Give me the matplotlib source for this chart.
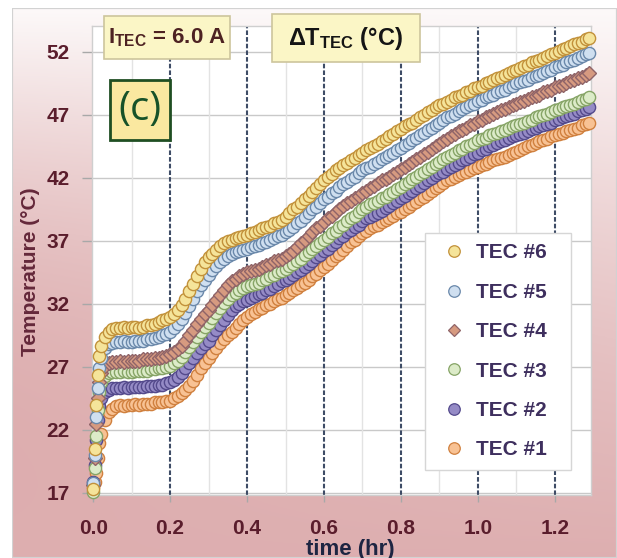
import numpy as np
import matplotlib
matplotlib.use("Agg")
import matplotlib.pyplot as plt
from matplotlib.patches import Rectangle

# ---------------- data ----------------
time_early = [0.0, 0.004, 0.008, 0.012, 0.016]
time_main = np.round(np.arange(0.02, 1.2901, 0.01), 3)
time_hr = np.concatenate([time_early, time_main])

tec6 = [17.3, 20.5, 24.0, 26.4, 27.9,
        28.7, 29.4, 29.8, 30.0, 30.1, 30.1, 30.2, 30.1, 30.2, 30.2,
        30.1, 30.2, 30.3, 30.3, 30.4, 30.6, 30.7, 30.8, 31.0, 31.2,
        31.5, 31.9, 32.4, 33.0, 33.6, 34.2, 34.8, 35.3, 35.7, 36.0,
        36.3, 36.6, 36.8, 37.0, 37.1, 37.2, 37.3, 37.4, 37.5, 37.6,
        37.7, 37.9, 38.0, 38.1, 38.2, 38.4, 38.5, 38.7, 38.9, 39.2,
        39.5, 39.7, 40.0, 40.3, 40.6, 40.9, 41.2, 41.5, 41.8, 42.1,
        42.3, 42.6, 42.8, 43.0, 43.2, 43.4, 43.6, 43.8, 44.0, 44.2,
        44.4, 44.5, 44.7, 44.9, 45.1, 45.3, 45.5, 45.7, 45.9, 46.1,
        46.3, 46.4, 46.6, 46.8, 47.0, 47.2, 47.4, 47.6, 47.8, 47.9,
        48.0, 48.2, 48.4, 48.5, 48.6, 48.8, 48.9, 49.1, 49.2, 49.3,
        49.5, 49.6, 49.8, 49.9, 50.0, 50.2, 50.3, 50.5, 50.6, 50.7,
        50.9, 51.0, 51.2, 51.3, 51.4, 51.5, 51.7, 51.8, 51.9, 52.1,
        52.2, 52.3, 52.5, 52.6, 52.7, 52.8, 53.0, 53.1]

tec5 = [17.8, 20.0, 23.0, 25.3, 26.9,
        27.7, 28.5, 28.8, 28.9, 29.0, 29.0, 29.1, 29.0, 29.0, 29.1,
        29.1, 29.1, 29.2, 29.2, 29.3, 29.4, 29.5, 29.6, 29.8, 30.1,
        30.4, 30.8, 31.3, 31.8, 32.4, 33.0, 33.5, 33.9, 34.3, 34.7,
        35.0, 35.3, 35.6, 35.8, 36.0, 36.1, 36.2, 36.3, 36.4, 36.5,
        36.6, 36.7, 36.8, 36.9, 37.1, 37.2, 37.4, 37.5, 37.7, 37.9,
        38.1, 38.4, 38.6, 38.9, 39.2, 39.5, 39.7, 40.0, 40.3, 40.5,
        40.8, 41.0, 41.3, 41.5, 41.7, 41.9, 42.1, 42.4, 42.6, 42.8,
        42.9, 43.1, 43.3, 43.5, 43.7, 43.8, 44.0, 44.2, 44.4, 44.6,
        44.8, 45.0, 45.2, 45.4, 45.6, 45.8, 46.0, 46.2, 46.4, 46.6,
        46.8, 46.9, 47.1, 47.3, 47.5, 47.6, 47.8, 47.9, 48.1, 48.2,
        48.4, 48.5, 48.6, 48.8, 48.9, 49.0, 49.2, 49.3, 49.5, 49.6,
        49.7, 49.8, 50.0, 50.1, 50.2, 50.3, 50.5, 50.6, 50.8, 50.9,
        51.0, 51.2, 51.3, 51.4, 51.5, 51.7, 51.8, 51.9]

tec4 = [17.6, 19.8, 22.5, 24.5, 25.8,
        26.5, 27.1, 27.3, 27.4, 27.4, 27.5, 27.4, 27.5, 27.5, 27.5,
        27.5, 27.6, 27.6, 27.6, 27.7, 27.7, 27.8, 27.9, 28.0, 28.2,
        28.4, 28.7, 29.1, 29.5, 29.9, 30.4, 30.8, 31.2, 31.5, 31.9,
        32.3, 32.7, 33.1, 33.5, 33.8, 34.0, 34.2, 34.4, 34.5, 34.6,
        34.7, 34.8, 34.9, 35.1, 35.2, 35.4, 35.5, 35.6, 35.8, 36.0,
        36.2, 36.5, 36.8, 37.1, 37.4, 37.7, 38.0, 38.2, 38.5, 38.8,
        39.0, 39.3, 39.5, 39.8, 40.0, 40.2, 40.4, 40.6, 40.8, 41.0,
        41.2, 41.4, 41.6, 41.8, 41.9, 42.1, 42.3, 42.5, 42.7, 42.9,
        43.1, 43.3, 43.5, 43.7, 43.9, 44.1, 44.3, 44.5, 44.7, 44.9,
        45.1, 45.3, 45.5, 45.7, 45.8, 46.0, 46.2, 46.3, 46.5, 46.6,
        46.8, 46.9, 47.1, 47.2, 47.4, 47.5, 47.6, 47.8, 47.9, 48.0,
        48.1, 48.3, 48.4, 48.5, 48.6, 48.8, 48.9, 49.0, 49.2, 49.3,
        49.4, 49.5, 49.7, 49.8, 49.9, 50.0, 50.2, 50.3]

tec3 = [17.1, 19.0, 21.5, 23.6, 25.0,
        25.8, 26.3, 26.5, 26.6, 26.6, 26.6, 26.7, 26.6, 26.6, 26.7,
        26.7, 26.7, 26.7, 26.8, 26.8, 26.9, 26.9, 27.0, 27.1, 27.3,
        27.5, 27.8, 28.2, 28.6, 29.0, 29.4, 29.8, 30.2, 30.5, 30.9,
        31.3, 31.7, 32.1, 32.4, 32.7, 32.9, 33.1, 33.3, 33.4, 33.5,
        33.6, 33.7, 33.9, 34.0, 34.2, 34.3, 34.5, 34.6, 34.8, 35.0,
        35.2, 35.4, 35.6, 35.9, 36.1, 36.4, 36.6, 36.8, 37.1, 37.3,
        37.6, 37.8, 38.1, 38.3, 38.6, 38.8, 39.0, 39.3, 39.5, 39.7,
        39.9, 40.0, 40.2, 40.4, 40.5, 40.7, 40.9, 41.1, 41.3, 41.5,
        41.7, 41.9, 42.1, 42.3, 42.5, 42.7, 42.9, 43.1, 43.3, 43.5,
        43.7, 43.8, 44.0, 44.2, 44.3, 44.5, 44.6, 44.8, 45.0, 45.1,
        45.2, 45.4, 45.5, 45.6, 45.7, 45.8, 46.0, 46.1, 46.2, 46.3,
        46.4, 46.5, 46.6, 46.8, 46.9, 47.0, 47.1, 47.2, 47.4, 47.5,
        47.6, 47.7, 47.8, 47.9, 48.0, 48.2, 48.3, 48.4]

tec2 = [17.9, 19.2, 21.2, 22.8, 23.9,
        24.5, 25.0, 25.2, 25.3, 25.3, 25.3, 25.4, 25.3, 25.4, 25.4,
        25.4, 25.4, 25.5, 25.5, 25.5, 25.6, 25.6, 25.7, 25.8, 26.0,
        26.2, 26.5, 26.9, 27.3, 27.7, 28.1, 28.5, 28.8, 29.1, 29.5,
        29.9, 30.3, 30.7, 31.1, 31.5, 31.8, 32.0, 32.2, 32.3, 32.5,
        32.6, 32.8, 32.9, 33.1, 33.2, 33.4, 33.6, 33.8, 33.9, 34.1,
        34.3, 34.5, 34.7, 34.9, 35.2, 35.4, 35.7, 35.9, 36.2, 36.4,
        36.7, 36.9, 37.2, 37.4, 37.7, 37.9, 38.1, 38.3, 38.6, 38.8,
        38.9, 39.1, 39.2, 39.4, 39.6, 39.8, 40.0, 40.2, 40.4, 40.6,
        40.8, 41.0, 41.2, 41.4, 41.6, 41.8, 42.0, 42.2, 42.4, 42.5,
        42.7, 42.9, 43.0, 43.2, 43.4, 43.5, 43.7, 43.9, 44.0, 44.2,
        44.3, 44.5, 44.6, 44.8, 44.9, 45.0, 45.2, 45.3, 45.4, 45.5,
        45.6, 45.7, 45.9, 46.0, 46.1, 46.2, 46.3, 46.4, 46.6, 46.7,
        46.8, 46.9, 47.0, 47.1, 47.3, 47.4, 47.5, 47.6]

tec1 = [17.5, 17.9, 18.6, 19.8, 21.0,
        21.7, 22.8, 23.4, 23.7, 23.9, 24.0, 23.9, 24.0, 24.0, 24.1,
        24.0, 24.1, 24.1, 24.1, 24.2, 24.2, 24.2, 24.3, 24.3, 24.5,
        24.7, 24.9, 25.2, 25.5, 25.9, 26.4, 26.9, 27.3, 27.7, 28.1,
        28.5, 28.9, 29.2, 29.5, 29.8, 30.1, 30.4, 30.7, 31.0, 31.2,
        31.4, 31.6, 31.7, 31.9, 32.0, 32.2, 32.4, 32.5, 32.7, 32.9,
        33.1, 33.3, 33.5, 33.7, 33.9, 34.2, 34.4, 34.7, 34.9, 35.2,
        35.5, 35.8, 36.0, 36.3, 36.6, 36.9, 37.1, 37.4, 37.6, 37.8,
        38.0, 38.2, 38.3, 38.5, 38.7, 38.8, 39.0, 39.2, 39.3, 39.5,
        39.7, 39.9, 40.1, 40.3, 40.5, 40.7, 41.0, 41.2, 41.4, 41.6,
        41.8, 41.9, 42.1, 42.2, 42.4, 42.5, 42.6, 42.8, 42.9, 43.0,
        43.1, 43.3, 43.4, 43.5, 43.6, 43.7, 43.8, 44.0, 44.1, 44.2,
        44.4, 44.5, 44.6, 44.8, 44.9, 45.0, 45.1, 45.3, 45.4, 45.5,
        45.6, 45.7, 45.8, 45.9, 46.0, 46.2, 46.3, 46.4]

series_labels = ["TEC #1", "TEC #2", "TEC #3", "TEC #4", "TEC #5", "TEC #6"]
series_values = [tec1, tec2, tec3, tec4, tec5, tec6]
face_colors = ["#f8c294", "#958bc6", "#dcebc8", "#d69a80", "#cfdff0", "#f5e49a"]
edge_colors = ["#d0803e", "#544a8c", "#86a466", "#8f6468", "#6a88aa", "#c2913a"]
markers = ["o", "o", "o", "D", "o", "o"]

x_ticks = [0.0, 0.2, 0.4, 0.6, 0.8, 1.0, 1.2]
x_minor = [0.1, 0.3, 0.5, 0.7, 0.9, 1.1]
y_ticks = [17, 22, 27, 32, 37, 42, 47, 52]

# ---------------- fonts ----------------
plt.rcParams["font.family"] = ["Liberation Sans", "DejaVu Sans"]
plt.rcParams["mathtext.fontset"] = "custom"
plt.rcParams["mathtext.rm"] = "Liberation Sans:bold"
plt.rcParams["mathtext.bf"] = "Liberation Sans:bold"
plt.rcParams["mathtext.it"] = "Liberation Sans:bold"

W, H = 617, 558
fig = plt.figure(figsize=(W / 100, H / 100), dpi=100, facecolor="white")

def fx(px):
    return px / W

def fy(py):
    return 1 - py / H

# ---------------- gradient background ----------------
bg = fig.add_axes([fx(12), 0, 1 - fx(12), fy(8)], zorder=-10)
v = np.linspace(0, 1, 300)[:, None]
u = np.linspace(0, 1, 300)[None, :]
p = 0.05 + 0.62 * v ** 1.1 + 0.24 * (1 - u) * np.sin(np.pi * v) + 0.1 * u * np.sin(np.pi * v)
p = np.clip(p, 0, 1)
pink = np.array([205, 135, 137]) / 255.0
img = (1 - p)[..., None] * np.ones(3) + p[..., None] * pink
bg.imshow(img, aspect="auto", extent=[0, 1, 0, 1], origin="upper")
bg.set_xlim(0, 1)
bg.set_ylim(0, 1)
bg.set_axis_off()
bg.add_patch(Rectangle((0, 0), 1, 1, transform=bg.transAxes, fill=False,
                       ec="#d2d2d2", lw=1.6))

# ---------------- main axes ----------------
ax = fig.add_axes([fx(92), fy(495), fx(591) - fx(92), fy(26) - fy(495)])
ax.set_facecolor("white")
ax.set_xlim(-0.003, 1.294)
ax.set_ylim(16.84, 54.06)

for yv in y_ticks:
    ax.axhline(yv, color="#c9c9c9", lw=1.0, zorder=0.5)
for xv in x_minor:
    ax.axvline(xv, color="#e3e3e3", lw=1.0, zorder=0.5)
for xv in x_ticks[1:]:
    ax.axvline(xv, color="#3e4c66", lw=1.5, ls=(0, (2.2, 1.0)), zorder=0.6)

lines = []
for lab, vals, fc, ec, mk in zip(series_labels, series_values, face_colors,
                                 edge_colors, markers):
    ms = 7.6 if mk == "D" else 8.8
    ln, = ax.plot(time_hr, vals, ls="none", marker=mk, ms=ms, mfc=fc, mec=ec,
                  mew=1.0, label=lab, zorder=3, clip_on=False)
    lines.append(ln)

ax.set_xticks(x_ticks)
ax.set_xticklabels([f"{t:.1f}" for t in x_ticks])
ax.set_yticks(y_ticks)
ax.set_yticklabels([str(t) for t in y_ticks])
ax.tick_params(axis="both", direction="out", color="#a8a8a8", width=1.0,
               labelcolor="#5a1d2c", labelsize=15)
ax.tick_params(axis="y", length=7, pad=9)
ax.tick_params(axis="x", length=5, pad=12)
for lbl in ax.get_xticklabels() + ax.get_yticklabels():
    lbl.set_fontweight("bold")

for s in ax.spines.values():
    s.set_color("#cfcfcf")
    s.set_linewidth(1.0)

ax.set_ylabel("Temperature (°C)", fontsize=15, fontweight="bold", color="#64283a")
ax.yaxis.set_label_coords((31 - 92) / 499, (495 - 272) / 469)
ax.yaxis.label.set_va("center")
ax.set_xlabel("time (hr)", fontsize=16, fontweight="bold", color="#1d2542")
ax.xaxis.set_label_coords((350 - 92) / 499, (495 - 549) / 469)
ax.xaxis.label.set_va("center")

# ---------------- legend ----------------
ax.add_patch(Rectangle((fx(425), fy(470)), fx(571) - fx(425), fy(233) - fy(470),
                       transform=fig.transFigure, fc="white", ec="#d6d6d6",
                       lw=1.0, zorder=8, clip_on=False))
leg = ax.legend(handles=lines[::-1], loc="upper left",
                bbox_to_anchor=(fx(425), fy(233)), bbox_transform=fig.transFigure,
                fontsize=15, frameon=False, borderpad=0.5, handlelength=1.8,
                handletextpad=0.15, labelspacing=0.98, numpoints=1,
                borderaxespad=0)
for t in leg.get_texts():
    t.set_fontweight("bold")
    t.set_color("#3e2f5e")
for h, mk in zip(leg.legend_handles, markers[::-1]):
    h.set_markersize(6.5 if mk == "D" else 8.3)
    h.set_markeredgewidth(0.9)
leg.set_zorder(10)

# ---------------- annotation boxes ----------------
def box(x0, y0, x1, y1, fc, ec, lw):
    fig.patches.append(Rectangle((fx(x0), fy(y1)), fx(x1) - fx(x0), fy(y0) - fy(y1),
                                 transform=fig.transFigure, fc=fc, ec=ec, lw=lw,
                                 zorder=20))

box(104, 16, 230, 59, "#fbf6c6", "#cdc59c", 1.2)
fig.text(fx(167), fy(38), r"$\mathrm{I_{TEC}}$ = 6.0 A", ha="center", va="center",
         fontsize=16, fontweight="bold", color="#4d2222", zorder=21)

box(272, 14, 420, 62, "#fbf6c6", "#cdc59c", 1.2)
fig.text(fx(346), fy(39), r"ΔT$\mathrm{_{TEC}}$ (°C)", ha="center", va="center",
         fontsize=17, fontweight="bold", color="#151515", zorder=21)

box(110, 80, 170, 140, "#fae8a0", "#1f4e22", 2.0)
fig.text(fx(140), fy(110), "(c)", ha="center", va="center", fontsize=29,
         color="#175229", zorder=21, family=["Open Sans", "Liberation Sans"])

fig.savefig("out.png", dpi=100, facecolor="white")
